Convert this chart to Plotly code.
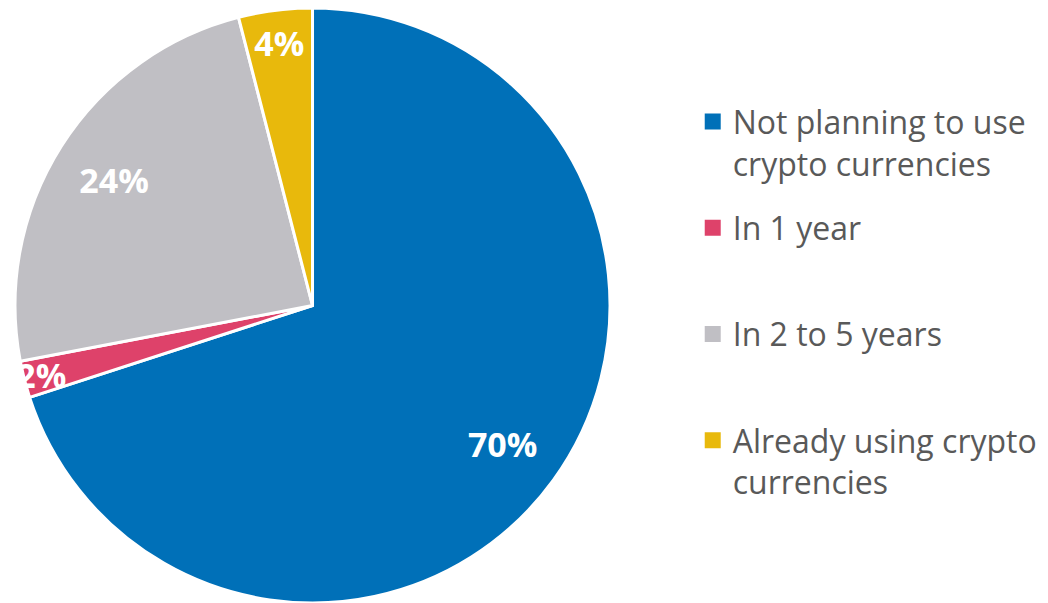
import plotly.graph_objects as go

categories = ["Not planning to use crypto currencies", "In 1 year", "In 2 to 5 years", "Already using crypto currencies"]
legend_labels = ["Not planning to use<br>crypto currencies", "In 1 year<br> ", "In 2 to 5 years<br> ", "Already using crypto<br>currencies"]
values = [70, 2, 24, 4]
colors = ["#0070B8", "#DE426A", "#C0BFC4", "#E8B90C"]

dom = dict(x=[0.0143, 0.5821], y=[0, 1])

fig = go.Figure()
# Main pie (slices)
fig.add_trace(go.Pie(
    labels=categories, values=values, sort=False,
    direction="clockwise", rotation=0,
    marker=dict(colors=colors, line=dict(color="white", width=3)),
    textinfo="none", domain=dom, showlegend=False,
    hoverinfo="label+percent",
))
# Text-only ring so labels sit at ~0.8 radius like the original
fig.add_trace(go.Pie(
    labels=categories, values=values, sort=False,
    direction="clockwise", rotation=0, hole=0.58,
    marker=dict(colors=["rgba(0,0,0,0)"] * len(values), line=dict(width=0)),
    texttemplate="%{percent:.0%}", textposition="inside",
    insidetextorientation="horizontal",
    insidetextfont=dict(color="white", size=34, family="Open Sans", weight="bold"),
    domain=dom, showlegend=False, hoverinfo="skip",
))
# Legend entries
for lab, col in zip(legend_labels, colors):
    fig.add_trace(go.Scatter(
        x=[None], y=[None], mode="markers", name=lab, legendgroup=lab,
        marker=dict(symbol="square", size=16, color=col, line=dict(width=0)),
        showlegend=True, hoverinfo="skip",
    ))

fig.update_layout(
    width=1048, height=603,
    margin=dict(l=0, r=0, t=8, b=0),
    paper_bgcolor="white", plot_bgcolor="white",
    uniformtext=dict(minsize=34, mode="show"),
    xaxis=dict(visible=False), yaxis=dict(visible=False),
    legend=dict(
        x=0.661, y=0.855, xanchor="left", yanchor="top",
        font=dict(family="Open Sans", size=32, color="#595959"),
        valign="top", tracegroupgap=20, bgcolor="rgba(0,0,0,0)",
    ),
)

fig.write_html("out.html")
